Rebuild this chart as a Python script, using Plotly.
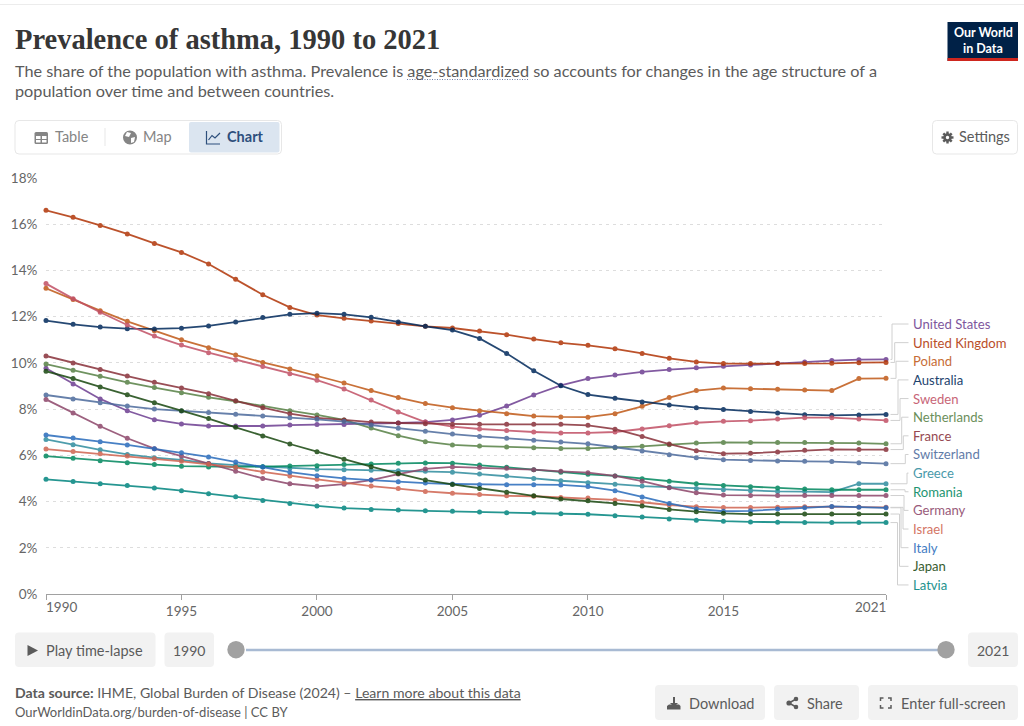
import plotly.graph_objects as go

YEARS = list(range(1990, 2022))

US = [9.77, 9.09, 8.44, 7.93, 7.54, 7.36, 7.27, 7.27, 7.27, 7.31, 7.33, 7.33, 7.36, 7.40, 7.44, 7.53,
      7.73, 8.13, 8.61, 9.03, 9.32, 9.48, 9.61, 9.71, 9.79, 9.85, 9.91, 9.98, 10.04, 10.10, 10.14, 10.15]
UK = [16.6, 16.3, 15.95, 15.58, 15.17, 14.78, 14.28, 13.62, 12.95, 12.4, 12.07, 11.93, 11.81, 11.7, 11.58, 11.51,
      11.38, 11.22, 11.03, 10.87, 10.76, 10.61, 10.41, 10.2, 10.04, 9.97, 9.97, 9.97, 9.97, 9.98, 10.01, 10.02]
POLAND = [13.23, 12.74, 12.26, 11.8, 11.39, 11.0, 10.66, 10.34, 10.02, 9.74, 9.44, 9.13, 8.8, 8.5, 8.24, 8.06,
          7.93, 7.8, 7.7, 7.66, 7.65, 7.8, 8.12, 8.5, 8.8, 8.91, 8.88, 8.86, 8.83, 8.8, 9.32, 9.33]
AUSTRALIA = [11.83, 11.67, 11.55, 11.48, 11.47, 11.5, 11.6, 11.77, 11.96, 12.1, 12.15, 12.1, 11.97, 11.77, 11.58, 11.42,
             11.06, 10.41, 9.66, 9.01, 8.63, 8.47, 8.31, 8.18, 8.06, 7.98, 7.9, 7.83, 7.76, 7.73, 7.75, 7.77]
SWEDEN = [13.43, 12.78, 12.19, 11.64, 11.16, 10.77, 10.44, 10.14, 9.84, 9.53, 9.25, 8.87, 8.39, 7.88, 7.44, 7.24,
          7.14, 7.07, 7.01, 6.97, 6.97, 7.01, 7.14, 7.28, 7.41, 7.47, 7.5, 7.57, 7.63, 7.63, 7.57, 7.51]
NETHERLANDS = [9.95, 9.68, 9.42, 9.16, 8.93, 8.71, 8.51, 8.34, 8.12, 7.93, 7.75, 7.53, 7.18, 6.85, 6.59, 6.45,
               6.4, 6.36, 6.33, 6.3, 6.3, 6.33, 6.39, 6.46, 6.53, 6.56, 6.56, 6.56, 6.56, 6.55, 6.53, 6.5]
FRANCE = [10.3, 10.0, 9.71, 9.43, 9.16, 8.91, 8.67, 8.36, 8.06, 7.8, 7.62, 7.53, 7.44, 7.4, 7.37, 7.34,
          7.34, 7.34, 7.34, 7.34, 7.3, 7.13, 6.82, 6.49, 6.2, 6.07, 6.09, 6.14, 6.22, 6.26, 6.25, 6.25]
SWITZERLAND = [8.61, 8.44, 8.28, 8.13, 8.0, 7.92, 7.85, 7.78, 7.7, 7.63, 7.56, 7.46, 7.31, 7.17, 7.04, 6.92,
               6.82, 6.74, 6.65, 6.58, 6.5, 6.35, 6.19, 6.03, 5.9, 5.81, 5.78, 5.75, 5.74, 5.73, 5.68, 5.64]
GREECE = [6.69, 6.46, 6.24, 6.04, 5.9, 5.8, 5.65, 5.58, 5.51, 5.44, 5.4, 5.38, 5.35, 5.33, 5.31, 5.27,
          5.19, 5.11, 5.0, 4.9, 4.81, 4.75, 4.67, 4.62, 4.56, 4.51, 4.47, 4.44, 4.43, 4.41, 4.77, 4.77]
ROMANIA = [5.97, 5.87, 5.77, 5.68, 5.6, 5.53, 5.5, 5.5, 5.51, 5.54, 5.55, 5.6, 5.63, 5.66, 5.67, 5.66,
           5.58, 5.48, 5.38, 5.27, 5.18, 5.11, 4.99, 4.88, 4.77, 4.7, 4.64, 4.59, 4.54, 4.51, 4.51, 4.51]
GERMANY = [8.42, 7.83, 7.26, 6.74, 6.29, 5.97, 5.65, 5.31, 5.0, 4.77, 4.66, 4.75, 4.93, 5.19, 5.41, 5.5,
           5.47, 5.44, 5.38, 5.31, 5.25, 5.11, 4.88, 4.6, 4.38, 4.28, 4.26, 4.26, 4.26, 4.26, 4.26, 4.26]
ISRAEL = [6.27, 6.17, 6.07, 5.97, 5.85, 5.74, 5.61, 5.48, 5.28, 5.11, 4.96, 4.82, 4.67, 4.56, 4.44, 4.36,
          4.3, 4.25, 4.23, 4.18, 4.15, 4.07, 3.97, 3.85, 3.78, 3.74, 3.74, 3.75, 3.78, 3.78, 3.76, 3.75]
ITALY = [6.88, 6.75, 6.59, 6.45, 6.29, 6.11, 5.93, 5.71, 5.5, 5.27, 5.12, 5.0, 4.93, 4.86, 4.8, 4.76,
         4.73, 4.73, 4.73, 4.72, 4.65, 4.47, 4.2, 3.92, 3.68, 3.58, 3.6, 3.68, 3.73, 3.79, 3.75, 3.73]
JAPAN = [9.64, 9.32, 8.96, 8.62, 8.28, 7.93, 7.59, 7.21, 6.84, 6.49, 6.16, 5.83, 5.51, 5.21, 4.93, 4.74,
         4.57, 4.4, 4.25, 4.11, 4.03, 3.92, 3.81, 3.66, 3.56, 3.49, 3.46, 3.46, 3.46, 3.46, 3.46, 3.46]
LATVIA = [4.96, 4.87, 4.77, 4.69, 4.59, 4.47, 4.34, 4.21, 4.05, 3.92, 3.81, 3.72, 3.66, 3.63, 3.6, 3.58,
          3.55, 3.52, 3.5, 3.47, 3.45, 3.39, 3.33, 3.25, 3.19, 3.15, 3.12, 3.1, 3.09, 3.09, 3.09, 3.09]

# top to bottom, same order as the labels on the right
COUNTRIES = ["United States", "United Kingdom", "Poland", "Australia", "Sweden", "Netherlands", "France",
             "Switzerland", "Greece", "Romania", "Germany", "Israel", "Italy", "Japan", "Latvia"]
VALUES = [US, UK, POLAND, AUSTRALIA, SWEDEN, NETHERLANDS, FRANCE, SWITZERLAND, GREECE, ROMANIA, GERMANY,
          ISRAEL, ITALY, JAPAN, LATVIA]
COLORS = ["#6D3E91", "#B13507", "#C05917", "#00295B", "#C15065", "#578145", "#883039", "#4C6A9C", "#2F8C9E",
          "#00875E", "#8C4569", "#CF6350", "#286BBB", "#18470F", "#00847E"]

YEAR_TICKS = [1990, 1995, 2000, 2005, 2010, 2015, 2021]
PCT_TICKS = [0, 2, 4, 6, 8, 10, 12, 14, 16, 18]

# plot area in page pixels
LEFT, RIGHT, TOP, BOTTOM = 46, 886, 178, 594
TEXT = "#5b5b5b"
FONT = "Lato"

# x of the vertical part of each label connector
BEND_X = [892, 894.7, 896, 898, 900, 901.7, 903.3, 905.3, 907, 905, 904, 903, 901, 899.5, 897.5]


def px(x):
    return (x - LEFT) / (RIGHT - LEFT)


def py(y):
    return (BOTTOM - y) / (BOTTOM - TOP)


def rbox(x0, y0, x1, y1, r=4):
    X0, X1, Y0, Y1 = px(x0), px(x1), py(y0), py(y1)
    rx, ry = r / (RIGHT - LEFT), r / (BOTTOM - TOP)
    return (f"M{X0 + rx},{Y0} L{X1 - rx},{Y0} Q{X1},{Y0} {X1},{Y0 - ry} L{X1},{Y1 + ry} Q{X1},{Y1} {X1 - rx},{Y1} "
            f"L{X0 + rx},{Y1} Q{X0},{Y1} {X0},{Y1 + ry} L{X0},{Y0 - ry} Q{X0},{Y0} {X0 + rx},{Y0} Z")


def poly(points, close=True):
    path = "M" + " L".join(f"{px(x)},{py(y)}" for x, y in points)
    return path + (" Z" if close else "")


def shape_path(path, fill=None, line=None, width=1, dash=None):
    return dict(type="path", xref="paper", yref="paper", path=path, layer="above",
                fillcolor=fill or "rgba(0,0,0,0)",
                line=dict(color=line or "rgba(0,0,0,0)", width=width if line else 0, dash=dash or "solid"))


def dot(cx, cy, r, fill):
    return dict(type="circle", xref="paper", yref="paper", x0=px(cx - r), x1=px(cx + r), y0=py(cy + r),
                y1=py(cy - r), fillcolor=fill, line=dict(width=0), layer="above")


def label(x, y, text, size=14.5, color=TEXT, anchor="left", family=FONT, opacity=1):
    return dict(xref="paper", yref="paper", x=px(x), y=py(y), text=text, showarrow=False, xanchor=anchor,
                yanchor="middle", borderpad=0, borderwidth=0, opacity=opacity,
                font=dict(family=family, size=size, color=color))


fig = go.Figure()
for name, vals, color in zip(COUNTRIES, VALUES, COLORS):
    fig.add_trace(go.Scatter(x=YEARS, y=vals, name=name, mode="lines+markers", cliponaxis=False, opacity=0.85,
                             line=dict(color=color, width=1.8), marker=dict(color=color, size=5)))

shapes = []
notes = []

# title block
notes.append(label(15, 39, "<b>Prevalence of asthma, 1990 to 2021</b>", size=28.5, color="#363636",
                   family="Liberation Serif"))
notes.append(label(15, 70, "The share of the population with asthma. Prevalence is age-standardized so accounts "
                           "for changes in the age structure of a", size=16.25))
notes.append(label(15, 90, "population over time and between countries.", size=16.25))
shapes.append(shape_path(poly([(407, 79.5), (529, 79.5)], close=False), line="#6f7ea6", width=1, dash="1px,1.5px"))
shapes.append(shape_path(poly([(0, 4.5), (1024, 4.5)], close=False), line="#ececec"))

# logo
shapes.append(shape_path(poly([(947.5, 22), (1018, 22), (1018, 61), (947.5, 61)]), fill="#002147"))
shapes.append(shape_path(poly([(947.5, 58), (1018, 58), (1018, 61), (947.5, 61)]), fill="#ce261e"))
notes.append(label(983, 32.8, "<b>Our World</b>", size=12.5, color="white", anchor="center"))
notes.append(label(983, 48, "<b>in Data</b>", size=12.5, color="white", anchor="center"))

# tabs
shapes.append(shape_path(rbox(15, 120.5, 281.5, 154), fill="white", line="#e7e7e7"))
shapes.append(shape_path(rbox(189, 122, 279.5, 152.5, r=2), fill="#dbe5f0"))
shapes.append(shape_path(poly([(105, 128), (105, 146)], close=False), line="#e7e7e7"))
shapes.append(shape_path(rbox(34.5, 132, 48, 144, r=1.5), fill="#858585"))
shapes.append(shape_path(poly([(36, 136), (40.5, 136), (40.5, 139), (36, 139)]), fill="white"))
shapes.append(shape_path(poly([(42, 136), (46.5, 136), (46.5, 139), (42, 139)]), fill="white"))
shapes.append(shape_path(poly([(36, 140), (40.5, 140), (40.5, 142.5), (36, 142.5)]), fill="white"))
shapes.append(shape_path(poly([(42, 140), (46.5, 140), (46.5, 142.5), (42, 142.5)]), fill="white"))
shapes.append(dot(130, 137.5, 7, "#858585"))
shapes.append(shape_path(poly([(127, 132), (131, 133), (129, 137), (125, 136)]), fill="white"))
shapes.append(shape_path(poly([(131, 138), (135, 137), (134, 142), (131, 143)]), fill="white"))
shapes.append(shape_path(poly([(206.5, 131), (206.5, 144), (220, 144)], close=False), line="#2d4f7c", width=1.2))
shapes.append(shape_path(poly([(208.5, 140), (212, 135.5), (215, 138), (220, 133)], close=False), line="#2d4f7c",
                         width=1.2))
notes.append(label(55, 136.8, "Table", color="#858585"))
notes.append(label(143, 136.8, "Map", color="#858585"))
notes.append(label(227, 136.8, "<b>Chart</b>", color="#2d4f7c"))

# settings, gear icon made of a disc and four bars
shapes.append(shape_path(rbox(932.5, 120.5, 1017.5, 154), fill="white", line="#e7e7e7"))
for (x0, y0), (x1, y1) in [((941.5, 137.5), (953.5, 137.5)), ((947.5, 131.5), (947.5, 143.5)),
                           ((943.3, 133.3), (951.7, 141.7)), ((951.7, 133.3), (943.3, 141.7))]:
    shapes.append(shape_path(poly([(x0, y0), (x1, y1)], close=False), line="#5b5b5b", width=2.4))
shapes.append(dot(947.5, 137.5, 4.3, "#5b5b5b"))
shapes.append(dot(947.5, 137.5, 1.7, "white"))
notes.append(label(959, 136.8, "Settings"))

# connectors and labels on the right
for i, (name, vals, color) in enumerate(zip(COUNTRIES, VALUES, COLORS)):
    label_y = 324 + i * 18.64
    end_y = BOTTOM - vals[-1] / 18 * (BOTTOM - TOP)
    shapes.append(shape_path(poly([(890.5, end_y), (BEND_X[i], end_y), (BEND_X[i], label_y), (908.5, label_y)],
                                  close=False), line="#d0d0d0", width=1))
    notes.append(label(913, label_y, name, size=13.1, color=color, opacity=0.88))

# year labels at both ends sit inside the tick, the others are centred
notes.append(label(46, 607, "1990", size=13.5, color="#666666"))
notes.append(label(886, 607, "2021", size=13.5, color="#666666", anchor="right"))

# timeline
shapes.append(shape_path(rbox(15, 632.5, 155.5, 667), fill="#f2f2f2"))
shapes.append(shape_path(poly([(27.5, 645), (27.5, 656), (38, 650.5)]), fill="#5b5b5b"))
notes.append(label(46, 650, "Play time-lapse"))
shapes.append(shape_path(rbox(164.5, 632.5, 214, 667), fill="#f2f2f2"))
notes.append(label(189.2, 650, "1990", size=14, anchor="center"))
shapes.append(shape_path(poly([(246, 650), (938, 650)], close=False), line="#a8bad3", width=2.5))
for cx in (236, 946):
    shapes.append(dot(cx, 649.7, 8.7, "#a1a1a1"))
shapes.append(shape_path(rbox(968, 632.5, 1018, 667), fill="#f2f2f2"))
notes.append(label(993, 650, "2021", size=14, anchor="center"))

# footer
notes.append(label(15, 692, "<b>Data source:</b> IHME, Global Burden of Disease (2024) – "
                            "<u>Learn more about this data</u>", size=14.1))
notes.append(label(15, 711.5, "OurWorldinData.org/burden-of-disease | CC BY", size=13))

shapes.append(shape_path(rbox(655, 685, 765, 720), fill="#f2f2f2"))
shapes.append(shape_path(poly([(673, 697), (675, 697), (675, 703), (678, 703), (674, 707), (670, 703), (673, 703)]),
                         fill="#5b5b5b"))
shapes.append(shape_path(poly([(667, 706), (669, 704.5), (679, 704.5), (680.5, 706), (680.5, 709.5), (667, 709.5)]),
                         fill="#5b5b5b"))
notes.append(label(689, 703, "Download"))

shapes.append(shape_path(rbox(774, 685, 859, 720), fill="#f2f2f2"))
shapes.append(shape_path(poly([(796, 699), (789, 703), (796, 707)], close=False), line="#5b5b5b", width=1.5))
for cx, cy, r in [(796, 699, 2.3), (789, 703, 2.6), (796, 707, 2.3)]:
    shapes.append(dot(cx, cy, r, "#5b5b5b"))
notes.append(label(806.5, 703, "Share"))

shapes.append(shape_path(rbox(868, 685, 1018, 720), fill="#f2f2f2"))
for corner in ([(880.5, 701), (880.5, 698), (883.5, 698)], [(888, 698), (891, 698), (891, 701)],
               [(880.5, 705), (880.5, 708), (883.5, 708)], [(888, 708), (891, 708), (891, 705)]):
    shapes.append(shape_path(poly(corner, close=False), line="#5b5b5b", width=1.5))
notes.append(label(901, 703, "Enter full-screen"))

fig.update_layout(
    width=1024,
    height=726,
    margin=dict(l=LEFT, r=1024 - RIGHT, t=TOP, b=726 - BOTTOM, pad=0),
    paper_bgcolor="white",
    plot_bgcolor="white",
    showlegend=False,
    shapes=shapes,
    annotations=notes,
    font=dict(family=FONT, size=14, color="#666666"),
    xaxis=dict(
        range=[1990, 2021],
        tickmode="array",
        tickvals=YEAR_TICKS,
        ticktext=["" if y in (1990, 2021) else str(y) for y in YEAR_TICKS],
        ticks="outside",
        ticklen=5,
        tickcolor="#a1a1a1",
        showgrid=False,
        showline=True,
        linecolor="#a1a1a1",
        zeroline=False,
        tickfont=dict(size=13.5, color="#666666"),
    ),
    yaxis=dict(
        range=[0, 18],
        tickmode="array",
        tickvals=PCT_TICKS,
        ticktext=[f"{v}%" for v in PCT_TICKS],
        ticks="outside",
        ticklen=5,
        tickcolor="rgba(0,0,0,0)",
        showgrid=True,
        gridcolor="#dddddd",
        griddash="3px,4px",
        zeroline=False,
        showline=False,
        tickfont=dict(size=13.5, color="#666666"),
    ),
)

fig.write_html("out.html", config=dict(displayModeBar=False),
               post_script="document.body.style.margin='0';document.body.style.overflow='hidden';")
